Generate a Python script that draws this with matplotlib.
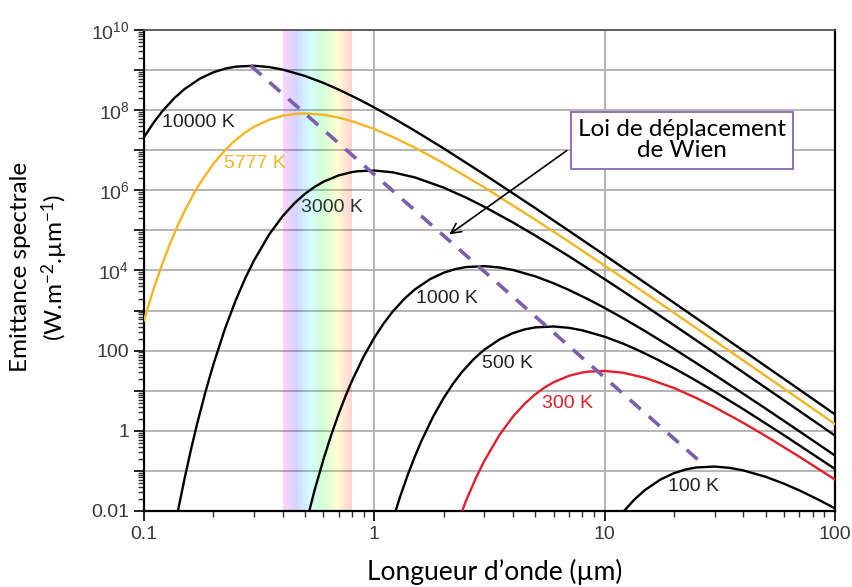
import numpy as np
import matplotlib
matplotlib.use('Agg')
import matplotlib.pyplot as plt
from matplotlib.ticker import FixedLocator, LogLocator, NullFormatter

plt.rcParams['mathtext.default'] = 'regular'

# spectral emittance (W.m-2.um-1), per temperature
lam_10000 = [0.1, 0.11, 0.12, 0.135, 0.15, 0.175, 0.2, 0.225, 0.25, 0.3, 0.35, 0.4, 0.5, 0.6, 0.7, 0.85, 1, 1.2, 1.5,
             2, 3, 5, 7, 10, 15, 20, 30, 50, 70, 100]
m_10000 = [2.108e7, 4.847e7, 9.34e7, 1.962e8, 3.364e8, 6.127e8, 8.789e8, 1.086e9, 1.217e9, 1.283e9, 1.188e9, 1.029e9,
           7.134e8, 4.81e8, 3.269e8, 1.902e8, 1.164e8, 6.49e7, 3.06e7, 1.11e7, 2.5e6, 3.59e5, 9.75e4, 2.419e4, 4894,
           1567, 313.5, 41.0, 10.72, 2.58]

lam_5777 = [0.1, 0.11, 0.12, 0.13, 0.14, 0.15, 0.165, 0.175, 0.2, 0.225, 0.25, 0.275, 0.3, 0.35, 0.4, 0.45, 0.5, 0.6,
            0.7, 0.8, 1, 1.2, 1.5, 2, 3, 5, 7, 10, 15, 20, 30, 50, 70, 100]
m_5777 = [571, 3417, 1.457e4, 4.82e4, 1.307e5, 3.03e5, 8.51e5, 1.503e6, 4.566e6, 1.0115e7, 1.807e7, 2.773e7, 3.82e7,
          5.79e7, 7.24e7, 8.04e7, 8.28e7, 7.70e7, 6.53e7, 5.314e7, 3.38e7, 2.158e7, 1.157e7, 4.725e6, 1.190e6,
          1.854e5, 5.21e4, 1.323e4, 2728, 881.5, 177.9, 23.44, 6.146, 1.484]

lam_3000 = [0.14, 0.15, 0.16, 0.17, 0.185, 0.2, 0.225, 0.25, 0.275, 0.3, 0.35, 0.4, 0.45, 0.5, 0.55, 0.6, 0.7, 0.8,
            0.85, 1, 1.2, 1.5, 2, 2.5, 3, 4, 5, 7, 10, 15, 20, 30, 50, 70, 100]
m_3000 = [0.0092, 0.0643, 0.3424, 1.477, 9.52, 45.0, 358.7, 1786, 6342, 1.756e4, 7.995e4, 2.27e5, 4.768e5, 8.17e5,
          1.2143e6, 1.626e6, 2.358e6, 2.851e6, 3.00e6, 3.118e6, 2.817e6, 2.10e6, 1.169e6, 6.594e5, 3.90e5, 1.577e5,
          7.44e4, 2.262e4, 6081, 1308, 431.4, 88.8, 11.89, 3.139, 0.7616]

lam_1000 = [0.5, 0.55, 0.6, 0.65, 0.7, 0.75, 0.8, 0.9, 1.0, 1.1, 1.2, 1.35, 1.5, 1.75, 2, 2.25, 2.5, 3, 3.5, 4, 5, 6,
            7, 8.5, 10, 12, 15, 20, 30, 50, 70, 100]
m_1000 = [0.00381, 0.0324, 0.1853, 0.786, 2.637, 7.35, 17.66, 72.25, 210.8, 484.7, 934, 1962, 3364, 6127, 8789,
          1.086e4, 1.217e4, 1.283e4, 1.188e4, 1.029e4, 7134, 4810, 3269, 1902, 1164, 649, 306, 111.0, 25.0, 3.59,
          0.975, 0.2419]

lam_500 = [1.1, 1.2, 1.3, 1.4, 1.5, 1.6, 1.8, 2, 2.2, 2.4, 2.7, 3, 3.5, 4, 4.5, 5, 6, 7, 8, 10, 12, 14, 17, 20, 24,
           30, 40, 60, 100]
m_500 = [0.00101, 0.00579, 0.02456, 0.0824, 0.2297, 0.552, 2.258, 6.59, 15.15, 29.19, 61.3, 105.1, 191.5, 274.7,
         339.4, 380.3, 401, 371, 321.6, 222.9, 150.3, 102.2, 59.4, 36.4, 20.3, 9.56, 3.47, 0.781, 0.112]

lam_300 = [2.25, 2.5, 2.75, 3, 3.5, 4, 4.5, 5, 5.5, 6, 7, 8, 8.5, 10, 12, 15, 20, 25, 30, 40, 50, 70, 100]
m_300 = [0.00359, 0.01786, 0.0634, 0.1756, 0.7995, 2.27, 4.768, 8.17, 12.14, 16.26, 23.58, 28.51, 30.0, 31.18,
         28.17, 21.0, 11.69, 6.594, 3.90, 1.577, 0.744, 0.2262, 0.0608]

lam_100 = [10, 11, 12, 13.5, 15, 17.5, 20, 22.5, 25, 30, 35, 40, 50, 60, 70, 85, 100]
m_100 = [0.00211, 0.00485, 0.00934, 0.01962, 0.03364, 0.06127, 0.08789, 0.1086, 0.1217, 0.1283, 0.1188, 0.1029,
         0.07134, 0.0481, 0.03269, 0.01902, 0.01164]

# Wien displacement line (peak of 10000 K -> peak of 100 K)
wien_x = [0.29, 27]
wien_y = [1.3e9, 0.14]

curves = [
    (lam_10000, m_10000, 'black', '#222222', '10000 K', 0.12, 10**7.68),
    (lam_5777, m_5777, '#f4b523', '#f4b523', '5777 K', 0.223, 10**6.68),
    (lam_3000, m_3000, 'black', '#2a3438', '3000 K', 0.482, 10**5.56),
    (lam_1000, m_1000, 'black', '#222222', '1000 K', 1.52, 10**3.31),
    (lam_500, m_500, 'black', '#222222', '500 K', 2.92, 10**1.67),
    (lam_300, m_300, '#e0202a', '#e0202a', '300 K', 5.32, 10**0.69),
    (lam_100, m_100, 'black', '#222222', '100 K', 18.8, 10**-1.38),
]

fig = plt.figure(figsize=(8.52, 5.87), dpi=100)
ax = fig.add_axes([0.169, 0.1295, 0.811, 0.8194])
ax.set_facecolor('white')
ax.set_xscale('log')
ax.set_yscale('log')
ax.set_xlim(0.1, 100)
ax.set_ylim(0.01, 1e10)

# visible band
edges = np.geomspace(0.4, 0.8, 41)
cmap = plt.get_cmap('hsv')
for i in range(len(edges) - 1):
    h = 0.83 - 0.83 * i / (len(edges) - 2)
    ax.axvspan(edges[i], edges[i + 1], color=cmap(h), alpha=0.17, lw=0, zorder=1)

ax.grid(True, which='major', axis='both', color='#b0b0b0', lw=1.3, zorder=0)
ax.set_axisbelow(True)

for lam, m, col, tcol, lab, tx, ty in curves:
    ax.plot(lam, m, color=col, lw=1.7, zorder=3)
    ax.text(tx, ty, lab, color=tcol, fontsize=14, family='Liberation Sans', va='center', ha='left', zorder=4)

ax.plot(wien_x, wien_y, color='#7a5fae', lw=2.6, ls=(0, (4, 3)), zorder=4)

ax.annotate('', xy=(2.07, 10**4.86), xytext=(7.0, 10**7.03),
            arrowprops=dict(arrowstyle='->', color='black', lw=1.2, mutation_scale=18), zorder=5)
ax.text(21.7, 10**7.25, 'Loi de déplacement\nde Wien', ha='center', va='center', fontsize=17.5,
        family='Lato', linespacing=1.0, zorder=6,
        bbox=dict(boxstyle='square,pad=0.3', fc='white', ec='#8a63b8', lw=1.3))

# ticks
ax.yaxis.set_major_locator(FixedLocator([10.0**k for k in range(-2, 11)]))
ylabels = {-2: '0.01', 0: '1', 2: '100', 4: '10$^4$', 6: '10$^6$', 8: '10$^8$', 10: '10$^{10}$'}
ax.set_yticklabels([ylabels.get(k, '') for k in range(-2, 11)])
ax.yaxis.set_minor_locator(LogLocator(base=10, subs=np.arange(2, 10), numticks=20))
ax.yaxis.set_minor_formatter(NullFormatter())
ax.xaxis.set_major_locator(FixedLocator([0.1, 1, 10, 100]))
ax.set_xticklabels(['0.1', '1', '10', '100'])
ax.xaxis.set_minor_locator(LogLocator(base=10, subs=np.arange(2, 10), numticks=10))
ax.xaxis.set_minor_formatter(NullFormatter())
ax.tick_params(which='major', direction='out', length=7, width=1.3, labelsize=14, colors='#111111',
               labelcolor='#3a3a3a')
ax.tick_params(which='minor', direction='out', length=4, width=1.0, colors='#333333')
for t in ax.get_xticklabels() + ax.get_yticklabels():
    t.set_family('Liberation Sans')

for s in ['left', 'bottom', 'right']:
    ax.spines[s].set_color('black')
    ax.spines[s].set_linewidth(1.6)
ax.spines['top'].set_color('#555555')
ax.spines['top'].set_linewidth(1.3)

fig.text(0.047, 0.545, 'Emittance spectrale\n(W.m$^{-2}$.µm$^{-1}$)', rotation=90, ha='center', va='center',
         fontsize=17.5, family='Lato', linespacing=1.35)
fig.text(0.581, 0.026, 'Longueur d’onde (µm)', ha='center', va='center', fontsize=19, family='Lato')

fig.savefig('out.png', dpi=100)
